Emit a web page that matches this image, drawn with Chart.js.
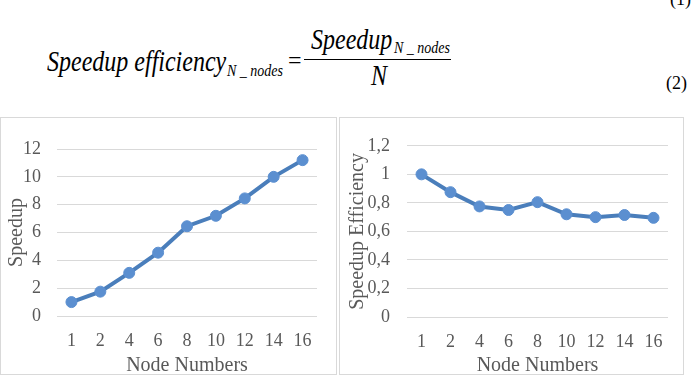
<!DOCTYPE html>
<html>
<head>
<meta charset="utf-8">
<script src="https://cdn.jsdelivr.net/npm/chart.js@4.4.1/dist/chart.umd.min.js"></script>
<style>
  html, body { margin: 0; padding: 0; background: #fff; }
  body { width: 696px; height: 378px; position: relative; overflow: hidden; }
  .f { position: absolute; white-space: nowrap; color: #000; line-height: 1;
       font-family: "Liberation Serif", "Times New Roman", serif; }
  .it { font-style: italic; transform: scale(1, 1.22); transform-origin: 0 0.84em; }
  .bar { position: absolute; height: 1px; background: #000; }
  .box { position: absolute; box-sizing: border-box; border: 1px solid #d9d9d9; }
  .box canvas { display: block; }
</style>
</head>
<body>
<!-- formula, tops = baseline - 0.84 * font size -->
<div class="f" style="left:670px;top:-10px;font-size:18px">(1)</div>
<div class="f it" style="left:47px;top:51px;font-size:24px">Speedup efficiency</div>
<div class="f it" style="left:227px;top:65px;font-size:14px">N _ nodes</div>
<div class="f" style="left:288px;top:48px;font-size:24px">=</div>
<div class="bar" style="left:304px;top:59px;width:147px"></div>
<div class="f it" style="left:311px;top:29px;font-size:24px">Speedup</div>
<div class="f it" style="left:394px;top:42px;font-size:14px">N _ nodes</div>
<div class="f it" style="left:371px;top:65px;font-size:24px">N</div>
<div class="f" style="left:666px;top:74px;font-size:18px">(2)</div>

<div class="box" style="left:0;top:117px;width:337px;height:258px"><canvas id="speedupChart" width="335" height="256"></canvas></div>
<div class="box" style="left:339px;top:117px;width:345px;height:258px"><canvas id="efficiencyChart" width="343" height="256"></canvas></div>
<script>
// Data
var nodeNumbers = ["1", "2", "4", "6", "8", "10", "12", "14", "16"];
var speedupValues = [1.0, 1.75, 3.1, 4.55, 6.45, 7.2, 8.45, 10.0, 11.2];
var efficiencyValues = [1.0, 0.875, 0.775, 0.75, 0.805, 0.72, 0.70, 0.715, 0.695];

Chart.defaults.font.family = "'Liberation Serif', serif";
Chart.defaults.color = "#595959";

var lineColor = "#4a7ebb";
var markerColor = "#5b8fd0";
var gridColor = "#d9d9d9";

function makeLineChart(canvasId, values, opts) {
    var canvas = document.getElementById(canvasId);
    return new Chart(canvas, {
        type: "line",
        data: {
            labels: nodeNumbers,
            datasets: [{
                data: values,
                borderColor: lineColor,
                borderWidth: 4,
                pointRadius: 5.5,
                pointBackgroundColor: markerColor,
                pointBorderColor: markerColor,
                pointBorderWidth: 1,
                tension: 0
            }]
        },
        options: {
            responsive: false,
            animation: false,
            layout: { padding: opts.padding },
            plugins: { legend: { display: false }, tooltip: { enabled: false } },
            scales: {
                x: {
                    offset: true,
                    grid: { display: false },
                    border: { display: false },
                    ticks: { font: { size: 18 }, padding: 6, maxRotation: 0, autoSkip: false },
                    title: {
                        display: true, text: "Node Numbers",
                        font: { size: 20, lineHeight: 0.8 },
                        padding: { top: 0, bottom: 0 }
                    },
                    afterFit: function (s) { s.height = opts.xHeight; }
                },
                y: {
                    min: 0,
                    max: opts.yMax,
                    grid: { color: gridColor, drawTicks: false },
                    border: { display: false },
                    ticks: {
                        stepSize: opts.step,
                        padding: opts.tickPad,
                        font: { size: 18 },
                        callback: opts.format
                    },
                    title: {
                        display: true, text: opts.yTitle,
                        font: { size: 20, lineHeight: 1.2 },
                        padding: { top: opts.titlePad, bottom: 0 }
                    },
                    afterFit: function (s) { s.width = opts.yWidth; }
                }
            }
        }
    });
}

// Speedup chart
makeLineChart("speedupChart", speedupValues, {
    padding: { top: 31, right: 19, bottom: 0, left: 0 },
    xHeight: 58, yWidth: 56, yMax: 12, step: 2, tickPad: 16, titlePad: 4,
    yTitle: "Speedup",
    format: function (v) { return String(v); }
});

// Speedup efficiency chart
makeLineChart("efficiencyChart", efficiencyValues, {
    padding: { top: 22, right: 15, bottom: 0, left: 0 },
    xHeight: 57, yWidth: 67, yMax: 1.2, step: 0.2, tickPad: 17, titlePad: 6,
    yTitle: "Speedup Efficiency",
    format: function (v) { return String(Math.round(v * 10) / 10).replace(".", ","); }
});
</script>
</body>
</html>
